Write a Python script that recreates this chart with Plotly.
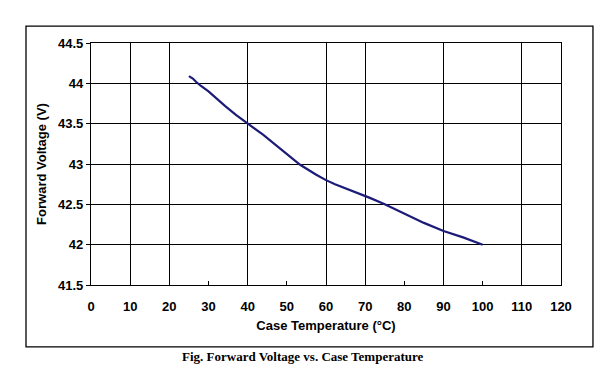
import plotly.graph_objects as go

temperature = [25.0, 26.0, 26.8, 28.0, 30.0, 32.0, 34.2, 37.0, 40.0, 44.0, 48.3, 53.4, 57.4, 60.0, 62.3, 65.0, 71.2, 75.0, 80.6, 85.0, 90.0, 95.0, 100.0]
voltage = [44.09, 44.06, 44.02, 43.97, 43.90, 43.81, 43.72, 43.61, 43.50, 43.36, 43.19, 42.99, 42.87, 42.80, 42.75, 42.70, 42.58, 42.50, 42.37, 42.27, 42.17, 42.09, 42.00]

x_ticks = [0, 10, 20, 30, 40, 50, 60, 70, 80, 90, 100, 110, 120]
x_grid = [10, 20, 40, 60, 70, 90, 110]
y_ticks = [41.5, 42, 42.5, 43, 43.5, 44, 44.5]
y_tick_text = ["41.5", "42", "42.5", "43", "43.5", "44", "44.5"]

sans = "Liberation Sans, Arial, sans-serif"
tick_font = dict(family=sans, size=13, color="black")

fig = go.Figure()
fig.add_trace(go.Scatter(x=temperature, y=voltage, mode="lines",
                         line=dict(color="#1c1c78", width=2.2),
                         showlegend=False, hoverinfo="skip"))
fig.add_trace(go.Scatter(x=[0, 120], y=[41.5, 41.5], xaxis="x2", mode="lines",
                         line=dict(width=0), showlegend=False, hoverinfo="skip"))

fig.update_layout(
    width=606, height=387,
    margin=dict(l=91, r=45, t=43, b=102),
    paper_bgcolor="white", plot_bgcolor="white",
    xaxis=dict(range=[0, 120], tickvals=x_ticks, ticktext=["<b>%d</b>" % v for v in x_ticks],
               showgrid=False, zeroline=False, ticks="inside", ticklen=4, tickcolor="black",
               showline=True, linecolor="black", linewidth=1.3, mirror=True,
               tickfont=tick_font, ticklabelstandoff=9,
               title=dict(text="<b>Case Temperature (°C)</b>", font=dict(family=sans, size=13, color="black"), standoff=8)),
    xaxis2=dict(range=[0, 120], overlaying="x", matches="x", tickvals=x_grid, showticklabels=False,
                showgrid=True, gridcolor="black", gridwidth=1, zeroline=False, ticks="", side="bottom"),
    yaxis=dict(range=[41.5, 44.5], tickvals=y_ticks, ticktext=["<b>%s</b>" % t for t in y_tick_text],
               showgrid=True, gridcolor="black", gridwidth=1, zeroline=False,
               ticks="outside", ticklen=4, tickcolor="black",
               showline=True, linecolor="black", linewidth=1.3, mirror=True,
               tickfont=tick_font,
               title=dict(text="<b>Forward Voltage (V)</b>", font=dict(family=sans, size=13, color="black"), standoff=8)),
)

fig.add_shape(type="rect", xref="paper", yref="paper", x0=-0.1383, x1=1.068, y0=-0.256, y1=1.070,
              line=dict(color="black", width=1.3), layer="below")

fig.add_annotation(text="<b>Fig. Forward Voltage vs. Case Temperature</b>", xref="paper", yref="paper",
                   x=(303 - 91) / 470, y=-0.335, showarrow=False,
                   font=dict(family="Liberation Serif, Times New Roman, serif", size=13, color="black"))

fig.write_html("out.html", config={"displayModeBar": False},
               post_script="document.body.style.margin='0';document.body.style.padding='0';")
